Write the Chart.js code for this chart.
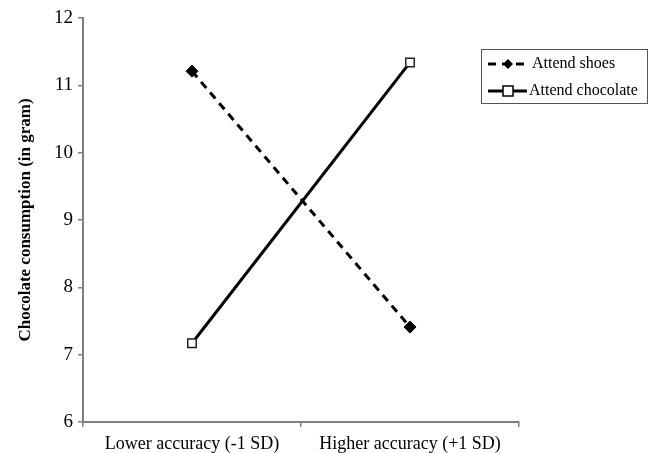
<!DOCTYPE html>
<html lang="en">
<head>
    <meta charset="UTF-8">
    <title>Chocolate consumption</title>
    <script src="https://cdn.jsdelivr.net/npm/chart.js"></script>
    <style>
        body { margin: 0; background: #fff; }
        #wrap { width: 654px; height: 453px; }
    </style>
</head>
<body>
    <div id="wrap"><canvas id="chart" width="654" height="453"></canvas></div>
    <script>
        const categories = ['Lower accuracy (-1 SD)', 'Higher accuracy (+1 SD)'];
        const seriesNames = ['Attend shoes', 'Attend chocolate'];
        const attendShoes = [11.21, 7.41];
        const attendChocolate = [7.17, 11.34];
        const yTicks = [6, 7, 8, 9, 10, 11, 12];

        const serif = "'Liberation Serif', 'Times New Roman', serif";
        const axisGray = '#7f7f7f';

        // legend drawn by hand: line with marker in the middle, inside a box
        const boxLegend = {
            id: 'boxLegend',
            afterDraw(chart) {
                const ctx = chart.ctx;
                const x = 481, y = 49, w = 166, h = 54;
                ctx.save();
                ctx.strokeStyle = '#555';
                ctx.lineWidth = 1;
                ctx.strokeRect(x + 0.5, y + 0.5, w, h);
                chart.data.datasets.forEach((ds, i) => {
                    const cy = y + 15 + i * 27;
                    ctx.strokeStyle = '#000';
                    ctx.lineWidth = 3;
                    ctx.setLineDash(ds.borderDash || []);
                    ctx.beginPath();
                    ctx.moveTo(488, cy);
                    ctx.lineTo(527, cy);
                    ctx.stroke();
                    ctx.setLineDash([]);
                    if (ds.pointStyle === 'rectRot') {
                        ctx.fillStyle = '#000';
                        ctx.beginPath();
                        ctx.moveTo(508, cy - 5);
                        ctx.lineTo(513, cy);
                        ctx.lineTo(508, cy + 5);
                        ctx.lineTo(503, cy);
                        ctx.closePath();
                        ctx.fill();
                    } else {
                        ctx.fillStyle = '#fff';
                        ctx.lineWidth = 1.5;
                        ctx.fillRect(503, cy - 5, 10, 10);
                        ctx.strokeRect(503, cy - 5, 10, 10);
                    }
                    ctx.fillStyle = '#000';
                    ctx.font = '16px ' + serif;
                    ctx.textBaseline = 'middle';
                    ctx.textAlign = 'left';
                    ctx.fillText(ds.label, i === 0 ? 532 : 529, cy);
                });
                ctx.restore();
            }
        };

        const config = {
            type: 'line',
            data: {
                labels: categories,
                datasets: [{
                    label: seriesNames[0],
                    data: attendShoes,
                    borderColor: '#000',
                    borderWidth: 3,
                    borderDash: [8, 6],
                    pointStyle: 'rectRot',
                    pointRadius: 6,
                    pointBackgroundColor: '#000',
                    pointBorderColor: '#000',
                    pointBorderWidth: 1,
                    tension: 0
                }, {
                    label: seriesNames[1],
                    data: attendChocolate,
                    borderColor: '#000',
                    borderWidth: 3,
                    pointStyle: 'rect',
                    pointRadius: 6,
                    pointBackgroundColor: '#fff',
                    pointBorderColor: '#222',
                    pointBorderWidth: 1.5,
                    tension: 0
                }]
            },
            options: {
                responsive: false,
                animation: false,
                layout: { padding: { top: 18, right: 135, bottom: 0, left: 0 } },
                plugins: {
                    legend: { display: false },
                    tooltip: { enabled: false }
                },
                scales: {
                    x: {
                        offset: true,
                        grid: {
                            offset: true,
                            drawOnChartArea: false,
                            drawTicks: true,
                            tickLength: 5,
                            color: axisGray,
                            lineWidth: 1.5
                        },
                        border: { color: axisGray, width: 2 },
                        ticks: {
                            color: '#000',
                            font: { family: serif, size: 18 },
                            padding: 6,
                            maxRotation: 0
                        },
                        afterFit(scale) { scale.height = 31; }
                    },
                    y: {
                        min: 6,
                        max: 12,
                        afterBuildTicks(scale) {
                            scale.ticks = yTicks.map(v => ({ value: v }));
                        },
                        grid: {
                            drawOnChartArea: false,
                            drawTicks: true,
                            tickLength: 5,
                            color: axisGray,
                            lineWidth: 1.5
                        },
                        border: { color: axisGray, width: 2 },
                        ticks: {
                            color: '#000',
                            font: { family: serif, size: 19 },
                            padding: 5
                        },
                        title: {
                            display: true,
                            text: 'Chocolate consumption (in gram)',
                            color: '#000',
                            font: { family: serif, size: 17, weight: 'bold' },
                            padding: { top: 15, bottom: 13 }
                        },
                        afterFit(scale) { scale.width = 83; }
                    }
                }
            },
            plugins: [boxLegend]
        };

        const chart = new Chart(document.getElementById('chart'), config);
    </script>
</body>
</html>
